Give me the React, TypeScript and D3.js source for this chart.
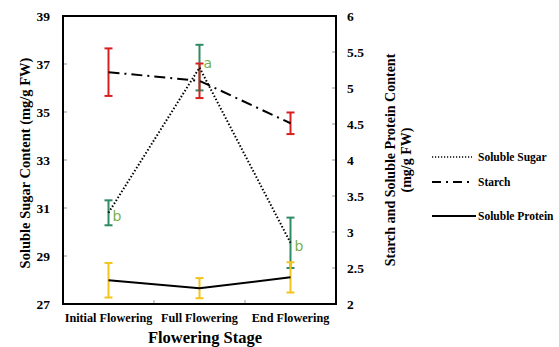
import React from "react";
import * as d3 from "d3";

const categories = ["Initial Flowering", "Full Flowering", "End Flowering"];
const sugar = [30.8, 36.85, 29.55];
const sugarErr = [0.52, 0.95, 1.05];
const starch = [5.22, 5.1, 4.51];
const starchErr = [0.33, 0.24, 0.15];
const protein = [2.33, 2.22, 2.37];
const proteinErr = [0.24, 0.14, 0.21];
const sugarLetters = ["b", "a", "b"];
const leftTicks = [27, 29, 31, 33, 35, 37, 39];
const rightTicks = [2, 2.5, 3, 3.5, 4, 4.5, 5, 5.5, 6];

const W = 559, H = 347;
const L = 63, R = 336, T = 16, B = 304;
const font = "'Liberation Serif', 'Times New Roman', serif";

export default function App() {
  const x = d3.scaleBand().domain(categories).range([L, R]);
  const yL = d3.scaleLinear().domain([27, 39]).range([B, T]);
  const yR = d3.scaleLinear().domain([2, 6]).range([B, T]);
  const cx = (c: string) => (x(c) as number) + x.bandwidth() / 2;
  const line = (vals: number[], s: d3.ScaleLinear<number, number>) =>
    d3.line<number>().x((_, i) => cx(categories[i])).y((v) => s(v))(vals) as string;

  const errBars = (vals: number[], errs: number[], s: d3.ScaleLinear<number, number>, color: string) =>
    vals.map((v, i) => {
      const xx = cx(categories[i]);
      const y1 = s(v + errs[i]);
      const y2 = s(v - errs[i]);
      return (
        <g key={i} stroke={color} strokeWidth={2}>
          <line x1={xx} x2={xx} y1={y1} y2={y2} />
          <line x1={xx - 4} x2={xx + 4} y1={y1} y2={y1} />
          <line x1={xx - 4} x2={xx + 4} y1={y2} y2={y2} />
        </g>
      );
    });

  const green = "#2e8b64";
  const red = "#d81e1e";
  const yellow = "#f2c41c";
  const letterColor = "#76b04a";

  return (
    <svg width={W} height={H} style={{ position: "absolute", left: 0, top: 0, background: "#fff" }} fontFamily={font}>
      {leftTicks.map((t) => (
        <line key={"lt" + t} x1={L} x2={L + 4} y1={yL(t)} y2={yL(t)} stroke="#999" strokeWidth={1} />
      ))}
      {rightTicks.map((t) => (
        <line key={"rt" + t} x1={R - 4} x2={R} y1={yR(t)} y2={yR(t)} stroke="#999" strokeWidth={1} />
      ))}
      {categories.slice(1).map((c) => (
        <line key={"xt" + c} x1={x(c) as number} x2={x(c) as number} y1={B} y2={B - 4} stroke="#999" strokeWidth={1} />
      ))}
      <rect x={L} y={T} width={R - L} height={B - T} fill="none" stroke="#000" strokeWidth={2} />

      {errBars(sugar, sugarErr, yL, green)}
      {errBars(starch, starchErr, yR, red)}
      {errBars(protein, proteinErr, yR, yellow)}

      <path d={line(sugar, yL)} fill="none" stroke="#000" strokeWidth={2} strokeDasharray="1.5,2" />
      <path d={line(starch, yR)} fill="none" stroke="#000" strokeWidth={2} strokeDasharray="11,5,2,5" />
      <path d={line(protein, yR)} fill="none" stroke="#000" strokeWidth={2} />

      {sugarLetters.map((l, i) => (
        <text key={"l" + i} x={cx(categories[i]) + 4} y={yL(sugar[i]) + (i === 1 ? 0 : 8)} fontSize={14} fill={letterColor} fontFamily="'DejaVu Sans', sans-serif">
          {l}
        </text>
      ))}

      {leftTicks.map((t) => (
        <text key={"ll" + t} x={50} y={yL(t)} dy="0.35em" textAnchor="end" fontSize={13.5} fontWeight="bold">
          {t}
        </text>
      ))}
      {rightTicks.map((t) => (
        <text key={"rl" + t} x={347} y={yR(t)} dy="0.35em" textAnchor="start" fontSize={13.5} fontWeight="bold">
          {t}
        </text>
      ))}
      {categories.map((c) => (
        <text key={"xl" + c} x={cx(c)} y={322} textAnchor="middle" fontSize={12.2} fontWeight="bold">
          {c}
        </text>
      ))}
      <text x={205} y={343} textAnchor="middle" fontSize={16.5} fontWeight="bold">Flowering Stage</text>
      <text transform={`translate(30,${(T + B) / 2 + 3}) rotate(-90)`} textAnchor="middle" fontSize={14.5} fontWeight="bold">
        Soluble Sugar Content (mg/g FW)
      </text>
      <text transform={`translate(395,${(T + B) / 2}) rotate(-90)`} textAnchor="middle" fontSize={14} fontWeight="bold">
        Starch and Soluble Protein Content
      </text>
      <text transform={`translate(411,${(T + B) / 2}) rotate(-90)`} textAnchor="middle" fontSize={14} fontWeight="bold">
        (mg/g FW)
      </text>

      <g fontSize={11.5} fontWeight="bold">
        <line x1={432} x2={472} y1={157} y2={157} stroke="#000" strokeWidth={1.5} strokeDasharray="1.2,1.8" />
        <text x={478} y={157} dy="0.35em">Soluble Sugar</text>
        <line x1={432} x2={474} y1={182} y2={182} stroke="#000" strokeWidth={2} strokeDasharray="9,5,2,5" />
        <text x={478} y={182} dy="0.35em">Starch</text>
        <line x1={432} x2={476} y1={216} y2={216} stroke="#000" strokeWidth={2} />
        <text x={478} y={216} dy="0.35em">Soluble Protein</text>
      </g>
    </svg>
  );
}
